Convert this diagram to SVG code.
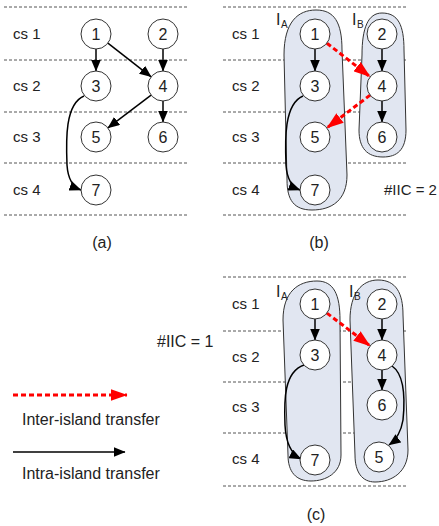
<svg xmlns="http://www.w3.org/2000/svg" width="439" height="526" viewBox="0 0 439 526">
<defs>
<style>
.t{font-family:"Liberation Sans",Arial,sans-serif;font-size:15px;fill:#222}
.L{font-family:"Liberation Sans",Arial,sans-serif;font-size:16px;fill:#222}
.n{font-family:"Liberation Sans",Arial,sans-serif;font-size:16px;fill:#222;text-anchor:middle}
.sub{font-family:"Liberation Sans",Arial,sans-serif;font-size:10px;fill:#222}
.dl{stroke:#555;stroke-width:1;stroke-dasharray:3,2;fill:none}
.c{fill:#fff;stroke:#333;stroke-width:1}
.isl{fill:#e1e6f1;stroke:#333;stroke-width:1}
.e{stroke:#000;stroke-width:1.5;fill:none;marker-end:url(#ab)}
.r{stroke:#f00;stroke-width:3;stroke-dasharray:5,3;fill:none;marker-end:url(#ar)}
</style>
<marker id="ab" markerWidth="12" markerHeight="10" refX="11.5" refY="5" orient="auto" markerUnits="userSpaceOnUse"><path d="M0,0 L12,5 L0,10 Z" fill="#000"/></marker>
<marker id="ar" markerWidth="17" markerHeight="12" refX="16.5" refY="6" orient="auto" markerUnits="userSpaceOnUse"><path d="M0,0 L17,6 L0,12 Z" fill="#f00"/></marker>
</defs>
<rect width="439" height="526" fill="#fff"/>

<g id="grid">
<path class="dl" d="M4,7H187M4,60H187M4,112H187M4,163H187M4,215H187"/>
<path class="dl" d="M223,7H407M223,60H407M223,112H407M223,163H407M223,215H407"/>
<path class="dl" d="M223,277H406M223,331H406M223,382H406M223,433H406M223,486H406"/>
</g>

<g id="labels">
<text class="t" x="13" y="39">cs 1</text>
<text class="t" x="13" y="91">cs 2</text>
<text class="t" x="13" y="142">cs 3</text>
<text class="t" x="13" y="195">cs 4</text>
<text class="t" x="232" y="39">cs 1</text>
<text class="t" x="232" y="91">cs 2</text>
<text class="t" x="232" y="142">cs 3</text>
<text class="t" x="232" y="195">cs 4</text>
<text class="t" x="232" y="309">cs 1</text>
<text class="t" x="232" y="362">cs 2</text>
<text class="t" x="232" y="412">cs 3</text>
<text class="t" x="232" y="464">cs 4</text>
<text class="t" x="384" y="195">#IIC = 2</text>
<text class="L" x="157" y="347">#IIC = 1</text>
<text class="n" x="102" y="248">(a)</text>
<text class="n" x="319" y="248">(b)</text>
<text class="n" x="316" y="520">(c)</text>
<text class="L" x="22" y="425">Inter-island transfer</text>
<text class="L" x="22" y="479">Intra-island transfer</text>
</g>

<g id="islands">
<path id="IA_b" class="isl" d="M284,55 C284,22 298,10 316,10 C334,10 342,22 342,50 L347,175 C347,200 332,210 312,210 C294,210 287,200 287,180 Z"/>
<path id="IB_b" class="isl" d="M362,55 C362,28 368,13 382,13 C398,13 404,25 404,50 L406,130 C406,150 397,157 383,157 C367,157 359,148 359,130 Z"/>
<path id="IA_c" class="isl" d="M283,320 C283,292 298,281 317,281 C334,281 340,295 340,320 L341,455 C341,473 326,481 311,481 C296,481 288,472 288,455 Z"/>
<path id="IB_c" class="isl" d="M350,320 C350,293 362,280 378,280 C396,280 403,293 403,315 L408,450 C408,472 392,482 375,482 C362,482 355,472 355,455 Z"/>
<text class="L" x="276" y="25">I</text><text class="sub" x="281" y="28">A</text>
<text class="L" x="352" y="25">I</text><text class="sub" x="357" y="28">B</text>
<text class="L" x="276" y="297">I</text><text class="sub" x="281" y="300">A</text>
<text class="L" x="349" y="297">I</text><text class="sub" x="354" y="300">B</text>
</g>

<g id="connectors">
<line class="e" x1="96" y1="49" x2="96" y2="71"/>
<line class="e" x1="163" y1="49" x2="163" y2="71"/>
<line class="e" x1="107.9" y1="43.2" x2="151.1" y2="76.8"/>
<line class="e" x1="151.1" y1="95.1" x2="107.9" y2="127.9"/>
<line class="e" x1="163" y1="101" x2="163" y2="122"/>
<path class="e" d="M84,96 C65,104 66,140 67,165 C68,180 73,187 81,190"/>

<line class="e" x1="315" y1="49" x2="315" y2="71"/>
<line class="e" x1="382" y1="49" x2="382" y2="71"/>
<line class="e" x1="382" y1="101" x2="382" y2="122"/>
<path class="e" d="M303,96 C284,104 285,140 286,165 C287,180 292,187 300,190"/>
<line class="r" x1="326.9" y1="43.2" x2="370.1" y2="76.8"/>
<line class="r" x1="370.1" y1="95.1" x2="326.9" y2="127.9"/>

<line class="e" x1="315" y1="319" x2="315" y2="340"/>
<line class="e" x1="382" y1="319" x2="382" y2="340"/>
<line class="e" x1="382" y1="370" x2="382" y2="390"/>
<path class="e" d="M304,365 C284,372 284,400 285,425 C286,445 293,455 301,459"/>
<path class="e" d="M392,366 C405,375 405,400 403,420 C401,432 396,440 389,445"/>
<line class="r" x1="326.9" y1="313.1" x2="370.1" y2="345.9"/>

<line class="r" x1="13" y1="395" x2="127" y2="395"/>
<line class="e" x1="13" y1="452" x2="125" y2="452"/>
</g>

<g id="nodes">
<g id="a1"><circle class="c" cx="96" cy="34" r="15"/><text class="n" x="96" y="40">1</text></g>
<g id="a2"><circle class="c" cx="163" cy="34" r="15"/><text class="n" x="163" y="40">2</text></g>
<g id="a3"><circle class="c" cx="96" cy="86" r="15"/><text class="n" x="96" y="92">3</text></g>
<g id="a4"><circle class="c" cx="163" cy="86" r="15"/><text class="n" x="163" y="92">4</text></g>
<g id="a5"><circle class="c" cx="96" cy="137" r="15"/><text class="n" x="96" y="143">5</text></g>
<g id="a6"><circle class="c" cx="163" cy="137" r="15"/><text class="n" x="163" y="143">6</text></g>
<g id="a7"><circle class="c" cx="96" cy="190" r="15"/><text class="n" x="96" y="196">7</text></g>

<g id="b1"><circle class="c" cx="315" cy="34" r="15"/><text class="n" x="315" y="40">1</text></g>
<g id="b2"><circle class="c" cx="382" cy="34" r="15"/><text class="n" x="382" y="40">2</text></g>
<g id="b3"><circle class="c" cx="315" cy="86" r="15"/><text class="n" x="315" y="92">3</text></g>
<g id="b4"><circle class="c" cx="382" cy="86" r="15"/><text class="n" x="382" y="92">4</text></g>
<g id="b5"><circle class="c" cx="315" cy="137" r="15"/><text class="n" x="315" y="143">5</text></g>
<g id="b6"><circle class="c" cx="382" cy="137" r="15"/><text class="n" x="382" y="143">6</text></g>
<g id="b7"><circle class="c" cx="315" cy="190" r="15"/><text class="n" x="315" y="196">7</text></g>

<g id="c1"><circle class="c" cx="315" cy="304" r="15"/><text class="n" x="315" y="310">1</text></g>
<g id="c2"><circle class="c" cx="382" cy="304" r="15"/><text class="n" x="382" y="310">2</text></g>
<g id="c3"><circle class="c" cx="315" cy="355" r="15"/><text class="n" x="315" y="361">3</text></g>
<g id="c4"><circle class="c" cx="382" cy="355" r="15"/><text class="n" x="382" y="361">4</text></g>
<g id="c6"><circle class="c" cx="382" cy="405" r="15"/><text class="n" x="382" y="411">6</text></g>
<g id="c7"><circle class="c" cx="315" cy="460" r="15"/><text class="n" x="315" y="466">7</text></g>
<g id="c5"><circle class="c" cx="379" cy="457" r="15"/><text class="n" x="379" y="463">5</text></g>
</g>
</svg>
